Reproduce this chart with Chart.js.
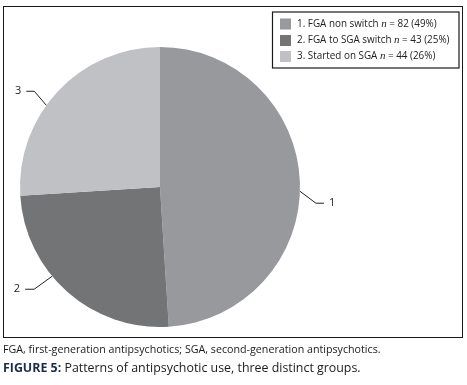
<!DOCTYPE html>
<html>
<head>
<meta charset="utf-8">
<script src="https://cdn.jsdelivr.net/npm/chart.js@4"></script>
<style>
  html, body { margin: 0; padding: 0; background: #fff; }
  body { width: 467px; height: 385px; position: relative; overflow: hidden; }
  #c { position: absolute; left: 0; top: 0; }
  #frame { position: absolute; left: 3px; top: 6px; width: 458px; height: 330px; border: 1.5px solid #1a1a1a; pointer-events: none; }
  .cap { position: absolute; left: 3px; white-space: nowrap; font-family: "Open Sans", sans-serif; color: #1a1a1a; }
  #note { top: 342px; font-size: 10.7px; }
  #title { top: 359px; font-size: 12.4px; }
  #title b { color: #1d2b4a; }
</style>
</head>
<body>
<div id="frame"></div>
<canvas id="c" width="467" height="385"></canvas>
<div class="cap" id="note">FGA, first-generation antipsychotics; SGA, second-generation antipsychotics.</div>
<div class="cap" id="title"><b>FIGURE 5:</b> Patterns of antipsychotic use, three distinct groups.</div>
<script>
// ---- data ----
const categories = ["1. FGA non switch", "2. FGA to SGA switch", "3. Started on SGA"];
const sliceLabels = ["1", "2", "3"];
const counts = [82, 43, 44];
const percents = [49, 25, 26];

const colors = ["#98999c", "#737476", "#c0c1c4"];

// leader line layout: anchor position along slice (fraction), elbow offset, horizontal segment
const leaderLayout = [
  { frac: 0.52, elbow: [16, 12], tail: 8, side: 1 },
  { frac: 0.60, elbow: [-18, 13], tail: -9, side: -1 },
  { frac: 0.42, elbow: [-12, -14], tail: -8, side: -1 }
];

const leaderPlugin = {
  id: 'leaders',
  afterDatasetsDraw(chart) {
    const ctx = chart.ctx;
    const meta = chart.getDatasetMeta(0);
    ctx.save();
    ctx.strokeStyle = '#222';
    ctx.lineWidth = 1;
    ctx.fillStyle = '#222';
    ctx.font = '11px "Open Sans", sans-serif';
    ctx.textBaseline = 'middle';
    meta.data.forEach((arc, i) => {
      const p = arc.getProps(['x', 'y', 'startAngle', 'endAngle', 'outerRadius'], true);
      const L = leaderLayout[i];
      const a = p.startAngle + (p.endAngle - p.startAngle) * L.frac;
      const ax = p.x + Math.cos(a) * p.outerRadius;
      const ay = p.y + Math.sin(a) * p.outerRadius;
      const ex = ax + L.elbow[0], ey = ay + L.elbow[1];
      const tx = ex + L.tail;
      ctx.beginPath();
      ctx.moveTo(ax, ay);
      ctx.lineTo(ex, ey);
      ctx.lineTo(tx, ey);
      ctx.stroke();
      ctx.textAlign = L.side > 0 ? 'left' : 'right';
      ctx.fillText(sliceLabels[i], tx + L.side * 5, ey);
    });
    ctx.restore();
  }
};

const legendPlugin = {
  id: 'boxLegend',
  afterDraw(chart) {
    const ctx = chart.ctx;
    ctx.save();
    ctx.strokeStyle = '#1a1a1a';
    ctx.lineWidth = 1.2;
    ctx.strokeRect(272.5, 12, 186.5, 56);
    const rows = [24, 40.5, 56.5];
    categories.forEach((cat, i) => {
      const y = rows[i];
      ctx.fillStyle = colors[i];
      ctx.fillRect(280, y - 5.5, 11, 11);
      ctx.fillStyle = '#222';
      ctx.textBaseline = 'middle';
      ctx.textAlign = 'left';
      let x = 297;
      const f1 = '9.9px "Open Sans", sans-serif';
      ctx.font = f1;
      const s1 = cat + ' ';
      ctx.fillText(s1, x, y); x += ctx.measureText(s1).width;
      ctx.font = 'italic 11px "Liberation Serif", serif';
      ctx.fillText('n', x, y); x += ctx.measureText('n').width;
      ctx.font = f1;
      ctx.fillText(' = ' + counts[i] + ' (' + percents[i] + '%)', x, y);
    });
    ctx.restore();
  }
};

new Chart(document.getElementById('c'), {
  type: 'pie',
  data: {
    labels: categories,
    datasets: [{
      data: percents,
      backgroundColor: colors,
      borderWidth: 0
    }]
  },
  options: {
    responsive: false,
    animation: false,
    layout: { padding: { left: 20, right: 167, top: 47, bottom: 58 } },
    plugins: { legend: { display: false }, tooltip: { enabled: false } }
  },
  plugins: [leaderPlugin, legendPlugin]
});
</script>
</body>
</html>
